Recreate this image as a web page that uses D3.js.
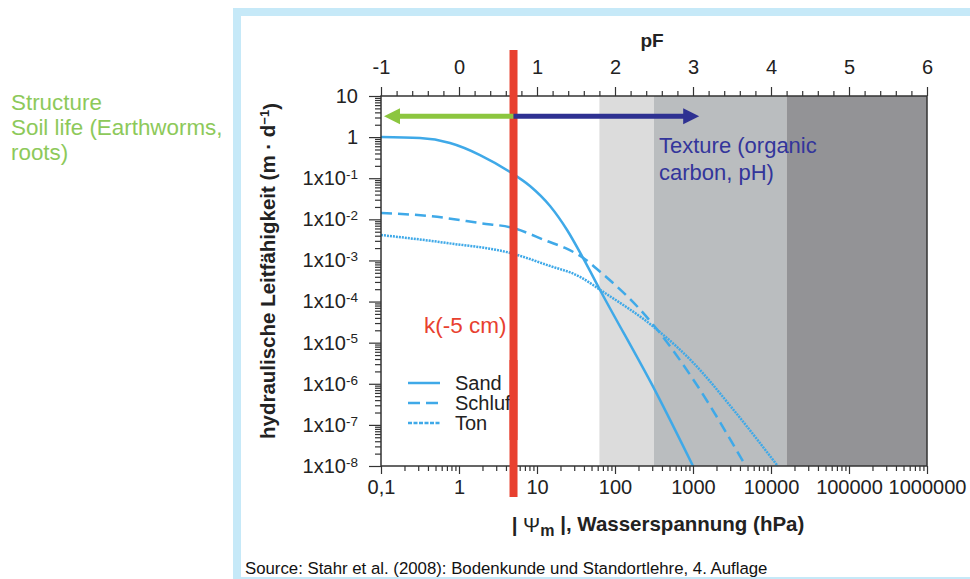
<!DOCTYPE html>
<html>
<head>
<meta charset="utf-8">
<script src="https://cdn.jsdelivr.net/npm/d3@7"></script>
<style>
body { margin: 0; background: #fff; }
text { font-family: "Liberation Sans", Arial, sans-serif; }
</style>
</head>
<body>
<script>
// values (hPa -> m/d)
var sandH = [0.1, 0.316, 0.767, 1.86, 4.51, 8.13, 14.7, 24.3, 38.9, 64.3, 345, 1000];
var sandK = [1.0, 0.95, 0.72, 0.367, 0.1416, 0.0647, 0.0211, 0.0055, 1.15e-3, 1.91e-4, 5.6e-7, 1e-8];
var schluffH = [0.1, 0.425, 1.87, 4.95, 13.4, 22.9, 39.3, 65, 212, 351, 1016, 4730];
var schluffK = [0.0143, 0.012, 0.0081, 0.00615, 2.97e-3, 2.01e-3, 1.15e-3, 5.24e-4, 6.24e-5, 2.03e-5, 1.24e-6, 1e-8];
var tonH = [0.1, 0.705, 4.54, 13.6, 36, 65, 351, 1016, 3320, 12200];
var tonK = [4.16e-3, 2.65e-3, 1.52e-3, 7.7e-4, 3.95e-4, 1.91e-4, 2.03e-5, 3.2e-6, 2.3e-7, 1e-8];

var seriesNames = ["Sand", "Schluff", "Ton"];

// pF zones (shaded)
var zoneFrom = [1.8, 2.5, 4.2];
var zoneTo = [2.5, 4.2, 6];
var zoneColor = ["#dcdcdc", "#babdbf", "#939396"];

// ticks
var xTicks = [0.1, 1, 10, 100, 1000, 10000, 100000, 1000000];
var xLabels = ["0,1", "1", "10", "100", "1000", "10000", "100000", "1000000"];
var pfTicks = [-1, 0, 1, 2, 3, 4, 5, 6];
var pfLabels = ["-1", "0", "1", "2", "3", "4", "5", "6"];
var yTicks = [1e-8, 1e-7, 1e-6, 1e-5, 1e-4, 1e-3, 1e-2, 1e-1, 1, 10];
var yExp = [-8, -7, -6, -5, -4, -3, -2, -1, 0, 1];

var kPoint = 5;       // hPa, k(-5 cm)
var arrowLeft = 0.1;
var arrowRight = 1200;
var arrowK = 3.2;

var W = 970, H = 579;
var svg = d3.select("body").append("svg").attr("width", W).attr("height", H);

// light blue frame
svg.append("rect").attr("x", 237).attr("y", 12).attr("width", 800).attr("height", 569)
    .attr("fill", "none").attr("stroke", "#c6e9f8").attr("stroke-width", 8);

var x = d3.scaleLog().domain([0.1, 1e6]).range([381, 927]);
var pf = d3.scaleLinear().domain([-1, 6]).range([381, 927]);
var y = d3.scaleLog().domain([1e-8, 10]).range([466, 96]);

// zones
svg.selectAll(".zone").data(zoneFrom).enter().append("rect")
    .attr("x", function(d) { return pf(d); })
    .attr("y", y(10))
    .attr("width", function(d, i) { return pf(zoneTo[i]) - pf(d); })
    .attr("height", y(1e-8) - y(10))
    .attr("fill", function(d, i) { return zoneColor[i]; });

// curves
var line = d3.line()
    .x(function(d) { return x(d[0]); })
    .y(function(d) { return y(d[1]); })
    .curve(d3.curveMonotoneX);

var series = [d3.zip(sandH, sandK), d3.zip(schluffH, schluffK), d3.zip(tonH, tonK)];
var dashes = [null, "11,6", "2,1"];
var blue = "#3fa9e8";

svg.selectAll(".curve").data(series).enter().append("path")
    .attr("d", line)
    .attr("fill", "none")
    .attr("stroke", blue)
    .attr("stroke-width", 2.5)
    .attr("stroke-dasharray", function(d, i) { return dashes[i]; });

// frame box
svg.append("rect").attr("x", 381).attr("y", 96).attr("width", 927 - 381).attr("height", 466 - 96)
    .attr("fill", "none").attr("stroke", "#333").attr("stroke-width", 1.5);

// minor ticks
var minorX = [], minorY = [], minorPf = [];
for (var e = -1; e < 6; e++) for (var m = 2; m < 10; m++) minorX.push(m * Math.pow(10, e));
for (var e2 = -8; e2 < 1; e2++) for (var m2 = 2; m2 < 10; m2++) minorY.push(m2 * Math.pow(10, e2));
for (var p = -1; p < 6; p++) for (var q = 1; q < 5; q++) minorPf.push(p + q * 0.2);

function styleAxis(g) {
  g.select(".domain").remove();
  g.selectAll("line").attr("stroke", "#333").attr("stroke-width", 1.2);
  g.selectAll("text").attr("fill", "#222").style("font-size", "20px")
    .style("font-family", "'Liberation Sans', Arial, sans-serif");
}

svg.append("g").attr("transform", "translate(0,466)")
  .call(d3.axisBottom(x).tickValues(minorX).tickSize(5).tickFormat(""))
  .call(styleAxis);
svg.append("g").attr("transform", "translate(0,466)")
  .call(d3.axisBottom(x).tickValues(xTicks).tickSize(8).tickPadding(6)
    .tickFormat(function(d, i) { return xLabels[i]; }))
  .call(styleAxis);

svg.append("g").attr("transform", "translate(0,96)")
  .call(d3.axisTop(pf).tickValues(minorPf).tickSize(5).tickFormat(""))
  .call(styleAxis);
svg.append("g").attr("transform", "translate(0,96)")
  .call(d3.axisTop(pf).tickValues(pfTicks).tickSize(9).tickPadding(13)
    .tickFormat(function(d, i) { return pfLabels[i]; }))
  .call(styleAxis);

svg.append("g").attr("transform", "translate(381,0)")
  .call(d3.axisLeft(y).tickValues(minorY).tickSize(6).tickFormat(""))
  .call(styleAxis);
var yAxis = svg.append("g").attr("transform", "translate(381,0)")
  .call(d3.axisLeft(y).tickValues(yTicks).tickSize(12).tickPadding(11).tickFormat(""))
  .call(styleAxis);

yAxis.selectAll(".tick text").each(function(d, i) {
  var t = d3.select(this);
  var ex = yExp[i];
  if (ex === 0) { t.text("1"); return; }
  if (ex === 1) { t.text("10"); return; }
  t.append("tspan").text("1x10");
  t.append("tspan").attr("dy", "-0.45em").style("font-size", "13.5px").text(String(ex));
});

// red vertical line
svg.append("line")
    .attr("x1", x(kPoint)).attr("x2", x(kPoint))
    .attr("y1", y(10) - 46).attr("y2", y(1e-8) + 31)
    .attr("stroke", "#e8402f").attr("stroke-width", 8);

// arrows
function arrow(xa, xb, col) {
  var dir = xb < xa ? -1 : 1;
  var ya = y(arrowK);
  svg.append("line").attr("x1", xa).attr("x2", xb - dir * 12).attr("y1", ya).attr("y2", ya)
      .attr("stroke", col).attr("stroke-width", 5);
  svg.append("path")
      .attr("d", "M" + xb + "," + ya + "L" + (xb - dir * 16) + "," + (ya - 8) + "L" + (xb - dir * 16) + "," + (ya + 8) + "Z")
      .attr("fill", col);
}
arrow(x(kPoint), x(arrowLeft) + 3, "#8cc63f");
arrow(x(kPoint), x(arrowRight), "#2e3192");

// legend
var legY = [383, 403, 423];
var legDash = [null, "12,6", "4,1.5"];
seriesNames.forEach(function(n, i) {
  svg.append("line").attr("x1", 408).attr("x2", 440).attr("y1", legY[i]).attr("y2", legY[i])
      .attr("stroke", blue).attr("stroke-width", 2.5).attr("stroke-dasharray", legDash[i]);
  svg.append("text").attr("x", 455).attr("y", legY[i] + 7).attr("fill", "#222")
      .style("font-size", "20px").text(n);
});
// red line drawn again above legend text so it hides "ff"
svg.append("line")
    .attr("x1", x(kPoint)).attr("x2", x(kPoint))
    .attr("y1", 360).attr("y2", 440)
    .attr("stroke", "#e8402f").attr("stroke-width", 8);

// annotation texts
svg.append("text").attr("x", 424).attr("y", 333).attr("fill", "#e8402f")
    .style("font-size", "22.5px").text("k(-5 cm)");

var tex = svg.append("text").attr("fill", "#33359b").style("font-size", "22px");
tex.append("tspan").attr("x", 659).attr("y", 153).text("Texture (organic");
tex.append("tspan").attr("x", 659).attr("y", 180).text("carbon, pH)");

var lft = svg.append("text").attr("fill", "#8dc95a").style("font-size", "22.4px");
lft.append("tspan").attr("x", 11).attr("y", 110).text("Structure");
lft.append("tspan").attr("x", 11).attr("y", 135).text("Soil life (Earthworms,");
lft.append("tspan").attr("x", 11).attr("y", 160).text("roots)");

// axis titles
svg.append("text").attr("x", 652).attr("y", 47).attr("text-anchor", "middle")
    .attr("fill", "#222").style("font-size", "19px").style("font-weight", "bold").text("pF");

var xt = svg.append("text").attr("x", 658).attr("y", 532).attr("text-anchor", "middle")
    .attr("fill", "#222").style("font-size", "20.5px").style("font-weight", "bold");
xt.append("tspan").text("| ");
xt.append("tspan").style("font-weight", "normal").text("Ψ");
xt.append("tspan").attr("dy", "0.25em").style("font-size", "16px").text("m");
xt.append("tspan").attr("dy", "-0.25em").text(" |, Wasserspannung (hPa)");

var yt = svg.append("text").attr("transform", "translate(275,271) rotate(-90)")
    .attr("text-anchor", "middle").attr("fill", "#222")
    .style("font-size", "20.5px").style("font-weight", "bold");
yt.append("tspan").text("hydraulische Leitfähigkeit (m · d");
yt.append("tspan").attr("dy", "-0.45em").style("font-size", "13px").text("−1");
yt.append("tspan").attr("dy", "0.45em").text(")");

svg.append("text").attr("x", 245).attr("y", 574).attr("fill", "#111")
    .style("font-size", "16.8px").text("Source: Stahr et al. (2008): Bodenkunde und Standortlehre, 4. Auflage");
</script>
</body>
</html>
